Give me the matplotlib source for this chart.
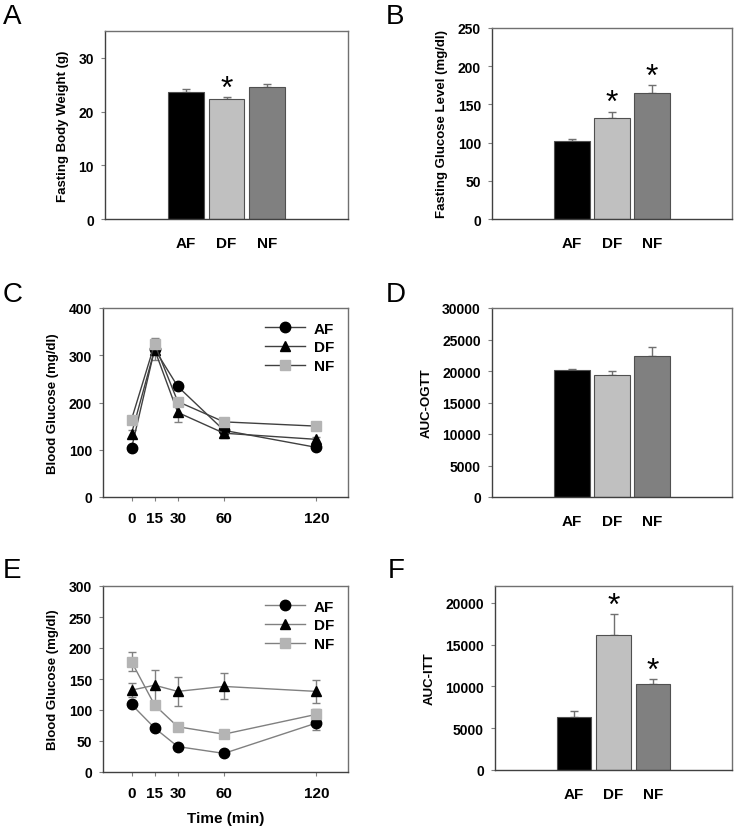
import matplotlib
matplotlib.use("Agg")
import matplotlib.pyplot as plt
import numpy as np

plt.rcParams['font.family'] = ['Liberation Sans', 'DejaVu Sans']

groups = ["AF", "DF", "NF"]
bar_colors = ["#000000", "#c0c0c0", "#808080"]

# Panel A
bw_mean = [23.7, 22.3, 24.6]
bw_err = [0.5, 0.4, 0.5]
# Panel B
glu_mean = [101.8, 132.4, 164.7]
glu_err = [3.0, 8.2, 10.9]
# Panel C (OGTT)
time_min = [0, 15, 30, 60, 120]
ogtt_af = [103, 313, 234, 141, 105]
ogtt_df = [134, 312, 179, 135, 122]
ogtt_nf = [164, 324, 202, 159, 150]
ogtt_af_err = [4, 10, 6, 12, 5]
ogtt_df_err = [8, 22, 21, 10, 6]
ogtt_nf_err = [8, 13, 8, 8, 6]
# Panel D
auc_ogtt = [20159, 19365, 22328]
auc_ogtt_err = [160, 690, 1480]
# Panel E (ITT)
itt_af = [109, 71, 41, 30, 79]
itt_df = [132, 140, 130, 138, 130]
itt_nf = [178, 108, 73, 61, 93]
itt_af_err = [4, 4, 4, 3, 11]
itt_df_err = [11, 25, 23, 21, 18]
itt_nf_err = [15, 6, 4, 4, 8]
# Panel F
auc_itt = [6295, 16135, 10279]
auc_itt_err = [720, 2470, 600]

W, H = 738, 828
fig = plt.figure(figsize=(W / 100, H / 100), dpi=100)


def add_ax(l, t, r, b):
    return fig.add_axes([l / W, 1 - b / H, (r - l) / W, (b - t) / H])


def style(ax):
    for s in ["top", "right"]:
        ax.spines[s].set_color("#707070")
        ax.spines[s].set_linewidth(1.0)
    for s in ["left", "bottom"]:
        ax.spines[s].set_color("#404040")
        ax.spines[s].set_linewidth(1.0)
    ax.tick_params(axis="y", direction="out", length=3, color="#808080",
                   labelsize=10, pad=5)
    for lab in ax.get_yticklabels():
        lab.set_fontweight("bold")


def bar_panel(ax, mean, err, ylim, yticks, ylabel, stars):
    x = np.arange(1, 4)
    ax.bar(x, mean, width=0.88, color=bar_colors, edgecolor="#505050",
           linewidth=0.8, zorder=2)
    ax.errorbar(x, mean, yerr=[[0, 0, 0], err], fmt="none", ecolor="#707070",
                elinewidth=1, capsize=3, capthick=1, zorder=1)
    ax.set_xlim(-1, 5)
    ax.set_ylim(*ylim)
    ax.set_yticks(yticks)
    ax.set_xticks(x)
    ax.set_xticklabels(groups, fontsize=11, fontweight="bold")
    ax.tick_params(axis="x", length=0, pad=12)
    ax.set_ylabel(ylabel, fontsize=9.5, fontweight="bold", labelpad=7)
    style(ax)
    span = ylim[1] - ylim[0]
    for i in stars:
        ax.text(x[i], mean[i] + err[i] - 0.035 * span, "*", ha="center",
                va="bottom", fontsize=23)


def line_panel(ax, series, errs, ylim, yticks, linecolor, xlabel=None):
    markers = ["o", "^", "s"]
    mcolors = ["#000000", "#000000", "#b4b4b4"]
    for ys, es, m, mc, g in zip(series, errs, markers, mcolors, groups):
        ax.errorbar(time_min, ys, yerr=es, fmt="none", ecolor="#808080",
                    elinewidth=1, capsize=3, capthick=1, zorder=1)
        ax.plot(time_min, ys, color=linecolor, lw=1, marker=m, markersize=7.5,
                markerfacecolor=mc, markeredgecolor=mc, label=g, zorder=3)
    ax.set_xlim(-18.5, 140.5)
    ax.set_ylim(*ylim)
    ax.set_yticks(yticks)
    ax.set_xticks(time_min)
    ax.set_xticklabels([str(t) for t in time_min], fontsize=11,
                       fontweight="bold")
    ax.tick_params(axis="x", direction="out", length=3, color="#808080", pad=7)
    ax.set_ylabel("Blood Glucose (mg/dl)", fontsize=9.5, fontweight="bold",
                  labelpad=7)
    if xlabel:
        ax.set_xlabel(xlabel, fontsize=11, fontweight="bold", labelpad=8)
    style(ax)
    leg = ax.legend(loc="upper right", frameon=False, handlelength=2.6,
                    fontsize=11, borderaxespad=0.5, labelspacing=0.3,
                    handletextpad=0.6)
    for t in leg.get_texts():
        t.set_fontweight("bold")


axA = add_ax(105, 32, 348, 220)
bar_panel(axA, bw_mean, bw_err, (0, 35), [0, 10, 20, 30],
          "Fasting Body Weight (g)", [1])

axB = add_ax(492, 29, 732, 220)
bar_panel(axB, glu_mean, glu_err, (0, 250), [0, 50, 100, 150, 200, 250],
          "Fasting Glucose Level (mg/dl)", [1, 2])

axC = add_ax(103, 309, 348, 498)
line_panel(axC, [ogtt_af, ogtt_df, ogtt_nf],
           [ogtt_af_err, ogtt_df_err, ogtt_nf_err], (0, 400),
           [0, 100, 200, 300, 400], "#404040")

axD = add_ax(492, 309, 732, 498)
bar_panel(axD, auc_ogtt, auc_ogtt_err, (0, 30000),
          [0, 5000, 10000, 15000, 20000, 25000, 30000], "AUC-OGTT", [])

axE = add_ax(103, 587, 348, 773)
line_panel(axE, [itt_af, itt_df, itt_nf], [itt_af_err, itt_df_err, itt_nf_err],
           (0, 300), [0, 50, 100, 150, 200, 250, 300], "#808080",
           xlabel="Time (min)")

axF = add_ax(495, 587, 732, 771)
bar_panel(axF, auc_itt, auc_itt_err, (0, 22000),
          [0, 5000, 10000, 15000, 20000], "AUC-ITT", [1, 2])

letters = [("A", 3, 4), ("B", 386, 4), ("C", 3, 282), ("D", 386, 282),
           ("E", 3, 558), ("F", 388, 558)]
for s, x, y in letters:
    fig.text(x / W, 1 - y / H, s, fontsize=20, va="top", ha="left")

fig.savefig("out.png", dpi=100)
